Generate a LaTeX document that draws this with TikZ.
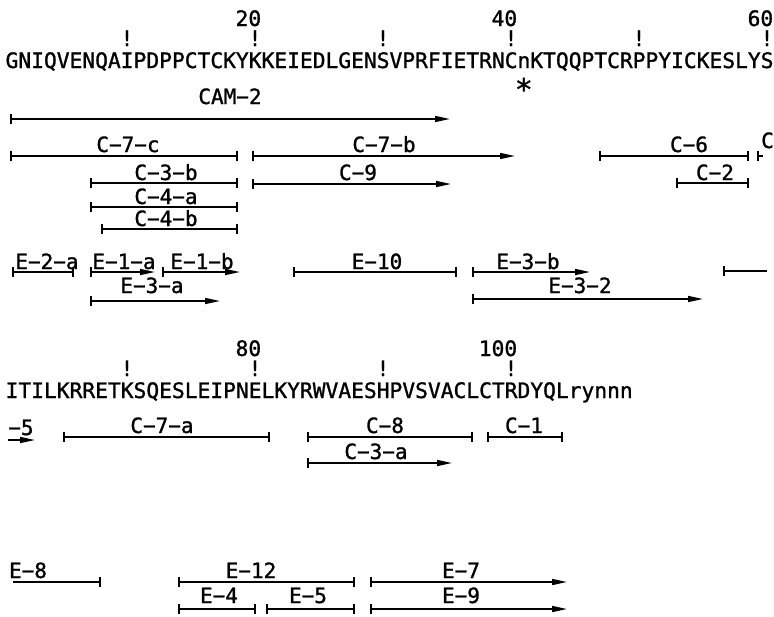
\documentclass[tikz,border=0pt]{standalone}
\usepackage{fontspec}
\usepackage{tikz}
\usetikzlibrary{arrows.meta}
\newfontfamily\seqfont[FakeBold=1.2]{DejaVu Sans Mono}

\begin{document}
\begin{tikzpicture}[x=1pt,y=-1pt,
  seqt/.style={font=\seqfont\fontsize{21.26}{24}\selectfont,inner sep=0pt},
  lab/.style={font=\seqfont\fontsize{21}{24}\selectfont,inner sep=0pt,anchor=base},
  seg/.style={line width=1.6pt},
  bb/.style={arrows={Bar[width=10pt]-Bar[width=10pt]}},
  ba/.style={arrows={Bar[width=10pt]-Triangle[length=15pt,width=6pt]}},
  nb/.style={arrows={-Bar[width=10pt]}},
  bn/.style={arrows={Bar[width=10pt]-}},
  na/.style={arrows={-Triangle[length=15pt,width=6pt]}}]
\useasboundingbox (0,0) rectangle (774,616);
% --- residues 1-60 ---
\node[seqt,anchor=base west] (seqa) at (5.4,68) {GNIQVENQAIPDPPCTCKYKKEIEDLGENSVPRFIETRNCnKTQQPTCRPPYICKESLYS};
\foreach \i in {10,20,...,60}
  \node[seqt,anchor=base] (ticka\i) at ({5.4+(\i-0.5)*12.8},46) {!};
\foreach \i in {20,40,60}
  \node[seqt,anchor=base east] (numa\i) at ({5.4+\i*12.8},26) {\i};
\node[seqt,anchor=base,scale=1.4] (star) at ({5.4+40.5*12.8},100) {*};
% --- residues 61-109 ---
\node[seqt,anchor=base west] (seqb) at (5.4,398) {ITILKRRETKSQESLEIPNELKYRWVAESHPVSVACLCTRDYQLrynnn};
\foreach \i/\k in {10/70,20/80,30/90,40/100}
  \node[seqt,anchor=base] (tickb\k) at ({5.4+(\i-0.5)*12.8},376) {!};
\foreach \i/\k in {20/80,40/100}
  \node[seqt,anchor=base east] (numb\k) at ({5.4+\i*12.8},356) {\k};
% --- fragments ---
\foreach \n/\xa/\xb/\y/\tp/\lx/\ly/\txt in {
  cam2/10/450/119/ba/230/104/CAM−2,
  c7c/10/238/156/bb/128/152/C−7−c,
  c7b/252/515/156/ba/384/152/C−7−b,
  c6/599/749/156/bb/689/152/C−6,
  c3b/90/238/183/bb/166/180/C−3−b,
  c9/252/451/184/ba/358/180/C−9,
  c2/676/749/183/bb/715/180/C−2,
  c4a/90/238/207/bb/166/204/C−4−a,
  c4b/101/238/229/bb/166/226/C−4−b,
  e2a/12/74/272/bb/47/269/E−2−a,
  e1a/90/155/272/ba/124/269/E−1−a,
  e1b/162/240/272/ba/202/269/E−1−b,
  e10/293/457/272/bb/377/269/E−10,
  e3b/472/590/272/ba/528/269/E−3−b,
  e3a/90/220/301/ba/152/293/E−3−a,
  e32/472/703/299/ba/580/293/E−3−2,
  c5b/8/35/440/na/21/435/−5,
  c7a/63/270/437/bb/162/433/C−7−a,
  c8/307/473/437/bb/385/433/C−8,
  c1/487/563/437/bb/524/433/C−1,
  c3a/307/452/463/ba/376/459/C−3−a,
  e8/13/101/582/nb/28/578/E−8,
  e12/178/355/582/bb/251/578/E−12,
  e7/370/567/582/ba/461/578/E−7,
  e4/178/256/609/bb/219/603/E−4,
  e5/266/355/609/bb/308/603/E−5,
  e9/370/567/609/ba/461/603/E−9}{
  \coordinate (\n-l) at (\xa,\y);
  \coordinate (\n-r) at (\xb,\y);
  \draw[seg,\tp] (\n-l) -- (\n-r);
  \node[lab] (\n) at (\lx,\ly) {\txt};
}
% pieces running off the right edge
\coordinate (c5a-l) at (757,156);
\coordinate (c5a-r) at (763,156);
\draw[seg,bn] (c5a-l) -- (c5a-r);
\node[lab,anchor=base west] (c5a) at (761,148) {C};
\coordinate (e8a-l) at (723,271);
\coordinate (e8a-r) at (767,271);
\draw[seg,bn] (e8a-l) -- (e8a-r);
\end{tikzpicture}
\end{document}
